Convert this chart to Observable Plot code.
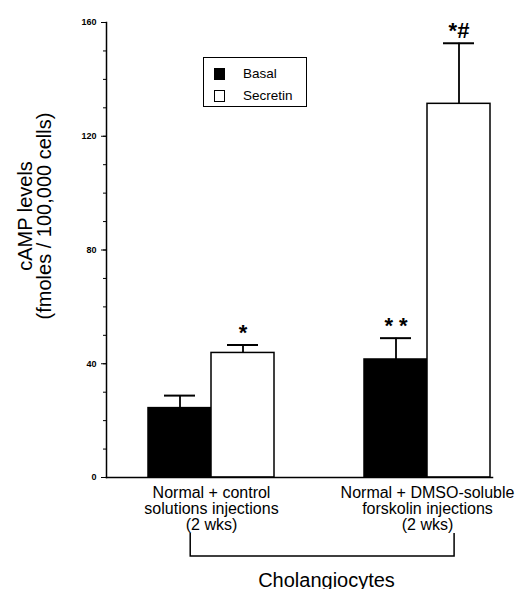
<!DOCTYPE html>
<html>
<head>
<meta charset="utf-8">
<script src="https://cdn.jsdelivr.net/npm/d3@7"></script>
<script src="https://cdn.jsdelivr.net/npm/@observablehq/plot@0.6"></script>
<style>
  html, body { margin: 0; padding: 0; background: #fff; }
  #wrap { position: relative; width: 523px; height: 589px; font-family: "Liberation Sans", Arial, sans-serif; }
  #legend { position: absolute; left: 203px; top: 57px; width: 102px; height: 48px; border: 1.5px solid #000; background: #fff; }
  .row { position: absolute; left: 10px; height: 14px; font-size: 13.5px; line-height: 14px; }
  .sw { position: absolute; left: 0; top: 1px; width: 9px; height: 10px; border: 1.5px solid #000; }
  .lab { position: absolute; left: 29px; top: 0; white-space: nowrap; }
</style>
</head>
<body>
<div id="wrap"></div>
<script>
const groups = ["Normal + control\nsolutions injections\n(2 wks)", "Normal + DMSO-soluble\nforskolin injections\n(2 wks)"];
const series = ["Basal", "Secretin"];
const seriesFill = ["#000", "#fff"];
const basalMean = [24.4, 41.5];
const basalSem = [4.4, 7.5];
const secretinMean = [43.8, 131.4];
const secretinSem = [2.8, 21.3];
const basalSig = ["", "* *"];
const secretinSig = ["*", "*#"];
const yTicks = [0, 40, 80, 120, 160];
const yMinorTicks = [0, 10, 20, 30, 40, 50, 60, 70, 80, 90, 100, 110, 120, 130, 140, 150, 160];
const yLabel = "cAMP levels\n(fmoles / 100,000 cells)";
const xLabel = "Cholangiocytes";

const rows = [];
groups.forEach((g, i) => {
  rows.push({group: g, series: series[0], mean: basalMean[i], sem: basalSem[i], sig: basalSig[i]});
  rows.push({group: g, series: series[1], mean: secretinMean[i], sem: secretinSem[i], sig: secretinSig[i]});
});

const font = "Liberation Sans, Arial, sans-serif";

const chart = Plot.plot({
  width: 523,
  height: 589,
  marginLeft: 106,
  marginRight: 31,
  marginTop: 22,
  marginBottom: 112,
  style: {fontFamily: font, background: "#fff", color: "#000"},
  fx: {domain: groups, paddingInner: 46 / 216, paddingOuter: 0, label: null},
  x: {domain: series, paddingInner: 0, paddingOuter: 0.349, align: 0.955, axis: null},
  y: {domain: [0, 160], label: null},
  color: {domain: series, range: seriesFill},
  marks: [
    Plot.barY(rows, {fx: "group", x: "series", y: "mean", fill: "series", stroke: "#000", strokeWidth: 1.5}),
    Plot.ruleX(rows, {fx: "group", x: "series", y1: "mean", y2: d => d.mean + d.sem, stroke: "#000", strokeWidth: 1.8}),
    Plot.tickY(rows, {fx: "group", x: "series", y: d => d.mean + d.sem, stroke: "#000", strokeWidth: 2, insetLeft: 16, insetRight: 16}),
    Plot.text(rows, {fx: "group", x: "series", y: d => d.mean + d.sem, text: "sig", lineAnchor: "bottom", fontSize: 22, fontWeight: "bold", dy: -5, fill: "#000"}),
    Plot.frame({anchor: "bottom", facet: "super", stroke: "#000", strokeWidth: 1.5}),
    Plot.frame({anchor: "left", facet: "super", stroke: "#000", strokeWidth: 1.5}),
    Plot.axisY({ticks: yMinorTicks, tickSize: 3, tickFormat: () => "", label: null}),
    Plot.axisY({ticks: yTicks, tickSize: 5, tickPadding: 5, fontSize: 9, fontWeight: "bold", label: null}),
    Plot.axisFx({anchor: "bottom", tickSize: 0, tickPadding: 9, fontSize: 16, dx: 20, label: null, lineHeight: 1}),
    Plot.text([yLabel], {facet: "super", frameAnchor: "left", textAnchor: "middle", rotate: -90, fontSize: 20, lineHeight: 0.95, dx: -71, dy: -34, fill: "#000"}),
    Plot.text([xLabel], {facet: "super", frameAnchor: "bottom", fontSize: 20, lineAnchor: "bottom", dx: 27, dy: 109, fill: "#000"})
  ]
});

const wrap = document.getElementById("wrap");
wrap.appendChild(chart);

// bracket under the two groups, placed with the plot's scales
const fxS = chart.scale("fx"), xS = chart.scale("x"), yS = chart.scale("y");
const ml = 106;
const bx1 = fxS.apply(groups[0]) + xS.apply(series[0]) - ml + xS.bandwidth * 0.67;
const bx2 = fxS.apply(groups[1]) + xS.apply(series[1]) - ml + xS.bandwidth * 0.43;
const by1 = yS.apply(-19.7), by2 = yS.apply(-27.8);
d3.select(chart).append("path")
  .attr("d", `M${bx1},${by1}V${by2}H${bx2}V${by1}`)
  .attr("fill", "none").attr("stroke", "#000").attr("stroke-width", 1.5);

// legend
const legend = document.createElement("div");
legend.id = "legend";
series.forEach((s, i) => {
  const r = document.createElement("div");
  r.className = "row";
  r.style.top = (9 + i * 22) + "px";
  r.innerHTML = `<div class="sw" style="background:${seriesFill[i]}"></div><div class="lab">${s}</div>`;
  legend.appendChild(r);
});
wrap.appendChild(legend);
</script>
</body>
</html>
